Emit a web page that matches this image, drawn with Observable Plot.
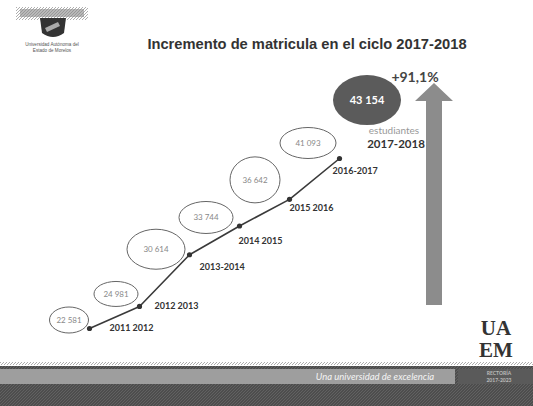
<!DOCTYPE html>
<html><head><meta charset="utf-8">
<script src="https://cdn.jsdelivr.net/npm/d3@7"></script>
<script src="https://cdn.jsdelivr.net/npm/@observablehq/plot@0.6"></script>
<style>
html,body{margin:0;padding:0;background:#fff;}
#chart{width:533px;height:406px;position:relative;overflow:hidden;}
</style></head><body><div id="chart"></div>
<script>
// ---- data ----
const cycleLabels = ["2011 2012", "2012 2013", "2013-2014", "2014 2015", "2015 2016", "2016-2017"];
const enrollment = [22581, 24981, 30614, 33744, 36642, 41093];
const currentCycle = "2017-2018";
const currentEnrollment = 43154;
const currentUnit = "estudiantes";
const growthLabel = "+91,1%";
const titleText = "Incremento de matricula en el ciclo 2017-2018";
const footerText = "Una universidad de excelencia";
const footerRight = ["RECTORÍA", "2017-2023"];
const uniName = ["Universidad Autónoma del", "Estado de Morelos"];

const data = cycleLabels.map((c, i) => ({cycle: c, value: enrollment[i]}));
const fmt = v => d3.format(",")(v).replace(/,/g, " ");

// ---- styles (offsets from points) ----
const labelOffsets = [[20, 0], [15, 0], [10, 12], [-1, 15], [0, 9], [-7, 13]];
const ellipseStyle = [[-20, -8, 19.5, 13], [-23, -12, 22, 12.5], [-33, -5, 29, 20], [-33, -8, 27, 16], [-34, -19, 25, 23], [-31, -15, 28, 15.5]];

const W = 533, H = 406;

function decorations(index, scales, values, dims) {
  const g = d3.create("svg:g");
  const defs = g.append("defs");
  const pat = defs.append("pattern").attr("id", "hatch").attr("width", 3).attr("height", 3)
    .attr("patternUnits", "userSpaceOnUse");
  pat.append("rect").attr("width", 3).attr("height", 3).attr("fill", "#4d4d4d");
  pat.append("path").attr("d", "M0,3 L3,0").attr("stroke", "#666").attr("stroke-width", 0.8);
  const pat2 = defs.append("pattern").attr("id", "hatch2").attr("width", 3).attr("height", 3)
    .attr("patternUnits", "userSpaceOnUse");
  pat2.append("rect").attr("width", 3).attr("height", 3).attr("fill", "#fff");
  pat2.append("path").attr("d", "M0,3 L3,0").attr("stroke", "#999").attr("stroke-width", 0.8);

  // title
  g.append("text").attr("x", 307).attr("y", 49).attr("text-anchor", "middle")
    .attr("font-family", "Liberation Sans, Arial, sans-serif").attr("font-weight", "bold")
    .attr("font-size", 14.7).attr("fill", "#333").text(titleText);

  // crest logo (simplified)
  g.append("rect").attr("x", 16).attr("y", 7).attr("width", 72).attr("height", 13).attr("fill", "url(#hatch2)");
  g.append("rect").attr("x", 20).attr("y", 9).attr("width", 64).attr("height", 8).attr("fill", "#888").attr("opacity", 0.6);
  g.append("path").attr("d", "M40,18 L66,18 L64,33 Q53,41 42,33 Z").attr("fill", "#333");
  g.append("path").attr("d", "M45,28 L58,22 L60,26 L47,32 Z").attr("fill", "#aaa");
  uniName.forEach((t, i) => g.append("text").attr("x", 52).attr("y", 46 + i * 6).attr("text-anchor", "middle")
    .attr("font-family", "Liberation Sans, Arial, sans-serif").attr("font-size", 4.6).attr("fill", "#555").text(t));

  // growth arrow
  g.append("path").attr("d", "M426,305 L426,101 L415,101 L434,83 L453,101 L442,101 L442,305 Z").attr("fill", "#8c8c8c");
  g.append("text").attr("x", 415).attr("y", 82).attr("text-anchor", "middle")
    .attr("font-family", "Lato, sans-serif").attr("font-weight", "bold").attr("font-size", 14).attr("fill", "#444").text(growthLabel);

  // footer
  g.append("rect").attr("x", 0).attr("y", 362).attr("width", W).attr("height", 3).attr("fill", "url(#hatch2)");
  g.append("rect").attr("x", 0).attr("y", 366).attr("width", W).attr("height", 40).attr("fill", "url(#hatch)");
  g.append("rect").attr("x", 0).attr("y", 369).attr("width", 455).attr("height", 15).attr("fill", "#9e9e9e");
  g.append("rect").attr("x", 458).attr("y", 369).attr("width", 75).attr("height", 15).attr("fill", "#5a5a5a");
  g.append("text").attr("x", 375).attr("y", 380).attr("text-anchor", "middle")
    .attr("font-family", "Lato, sans-serif").attr("font-style", "italic").attr("font-size", 9.5).attr("fill", "#f4f4f4").text(footerText);
  footerRight.forEach((t, i) => g.append("text").attr("x", 499).attr("y", 375 + i * 7).attr("text-anchor", "middle")
    .attr("font-family", "Lato, sans-serif").attr("font-weight", "bold").attr("font-size", 5).attr("fill", "#bbb").text(t));

  // UAEM
  ["UA", "EM"].forEach((t, i) => g.append("text").attr("x", 496).attr("y", 335 + i * 22).attr("text-anchor", "middle")
    .attr("font-family", "Liberation Serif, DejaVu Serif, serif").attr("font-weight", "bold").attr("font-size", 21).attr("fill", "#333").text(t));
  return g.node();
}

function ellipses(index, scales) {
  const g = d3.create("svg:g");
  data.forEach((d, i) => {
    const [ox, oy, rx, ry] = ellipseStyle[i];
    const cx = scales.x(d.cycle) + ox, cy = scales.y(d.value) + oy;
    g.append("ellipse").attr("cx", cx).attr("cy", cy).attr("rx", rx).attr("ry", ry)
      .attr("fill", "#fff").attr("stroke", "#666").attr("stroke-width", 1);
    g.append("text").attr("x", cx).attr("y", cy).attr("dy", "0.35em").attr("text-anchor", "middle")
      .attr("font-family", "Lato, sans-serif").attr("font-size", 8).attr("fill", "#888").text(fmt(d.value));
  });
  // current cycle highlight
  const cx = scales.x(currentCycle) - 22, cy = scales.y(currentEnrollment) - 39;
  g.append("ellipse").attr("cx", cx).attr("cy", cy).attr("rx", 34).attr("ry", 25).attr("fill", "#5b5b5b");
  g.append("text").attr("x", cx).attr("y", cy).attr("dy", "0.35em").attr("text-anchor", "middle")
    .attr("font-family", "Lato, sans-serif").attr("font-weight", "bold").attr("font-size", 11).attr("fill", "#fff").text(fmt(currentEnrollment));
  g.append("text").attr("x", cx + 27).attr("y", cy + 34).attr("text-anchor", "middle")
    .attr("font-family", "Lato, sans-serif").attr("font-size", 10).attr("fill", "#999").text(currentUnit);
  g.append("text").attr("x", cx + 29).attr("y", cy + 48).attr("text-anchor", "middle")
    .attr("font-family", "Lato, sans-serif").attr("font-weight", "bold").attr("font-size", 11.5).attr("fill", "#333").text(currentCycle);
  return g.node();
}

const labelMarks = data.map((d, i) => Plot.text([d], {
  x: "cycle", y: "value", text: "cycle", dx: labelOffsets[i][0], dy: labelOffsets[i][1],
  textAnchor: "start", fontFamily: "Lato, sans-serif", fontWeight: "bold", fontSize: 9, fill: "#333"
}));

const plot = Plot.plot({
  width: W, height: H,
  margin: 0,
  style: {background: "#fff", overflow: "visible"},
  x: {type: "point", domain: [...cycleLabels, currentCycle], range: [88, 389], padding: 0, axis: null},
  y: {type: "linear", domain: [22581, 41093], range: [328, 158], axis: null},
  marks: [
    decorations,
    Plot.line(data, {x: "cycle", y: "value", stroke: "#3a3a3a", strokeWidth: 1.6}),
    Plot.dot(data, {x: "cycle", y: "value", r: 2.6, fill: "#333"}),
    ellipses,
    ...labelMarks
  ]
});
document.getElementById("chart").appendChild(plot);
</script></body></html>
